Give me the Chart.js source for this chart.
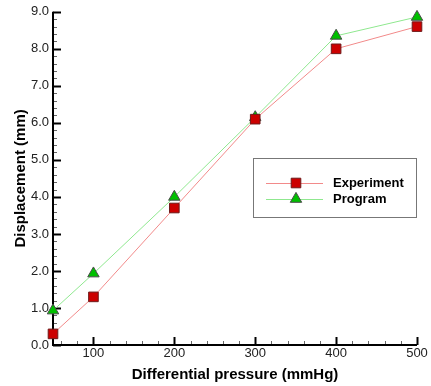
<!DOCTYPE html>
<html>
<head>
<meta charset="utf-8">
<script src="https://cdn.jsdelivr.net/npm/chart.js@4/dist/chart.umd.min.js"></script>
<style>
  html, body { margin: 0; padding: 0; background: #fff; }
  #wrap { width: 431px; height: 386px; }
</style>
</head>
<body>
<div id="wrap"><canvas id="c" width="431" height="386"></canvas></div>
<script>
// ---- data ----
const pressures = [50, 100, 200, 300, 400, 500];
const experiment = [0.30, 1.30, 3.70, 6.10, 8.00, 8.60];
const program = [0.93, 1.93, 4.00, 6.15, 8.35, 8.86];
const seriesNames = ['Experiment', 'Program'];
const xTickLabels = [100, 200, 300, 400, 500];
const yTickLabels = ['0.0', '1.0', '2.0', '3.0', '4.0', '5.0', '6.0', '7.0', '8.0', '9.0'];
const xTitle = 'Differential pressure (mmHg)';
const yTitle = 'Displacement (mm)';

const FONT = "'Liberation Sans', Arial, Helvetica, sans-serif";

// inward ticks + axes drawn from scales
const axisPlugin = {
  id: 'axisPlugin',
  beforeDatasetsDraw(chart) {
    const ctx = chart.ctx;
    const xs = chart.scales.x, ys = chart.scales.y;
    const a = chart.chartArea;
    ctx.save();
    for (let i = 0; i <= 45; i++) {
      const v = i * 0.2;
      const py = Math.round(ys.getPixelForValue(v)) + 0.5;
      const major = i % 5 === 0;
      ctx.beginPath();
      ctx.strokeStyle = major ? '#000' : '#666';
      ctx.lineWidth = major ? 2 : 1;
      ctx.moveTo(a.left, py);
      ctx.lineTo(a.left + (major ? 8 : 4), py);
      ctx.stroke();
    }
    for (let v = 60; v <= 500; v += 20) {
      const px = Math.round(xs.getPixelForValue(v)) + 0.5;
      const major = v % 100 === 0;
      ctx.beginPath();
      ctx.strokeStyle = major ? '#000' : '#666';
      ctx.lineWidth = major ? 2 : 1;
      ctx.moveTo(px, a.bottom);
      ctx.lineTo(px, a.bottom - (major ? 8 : 4));
      ctx.stroke();
    }
    ctx.beginPath();
    ctx.strokeStyle = '#000';
    ctx.lineWidth = 2;
    ctx.moveTo(a.left, a.top);
    ctx.lineTo(a.left, a.bottom);
    ctx.lineTo(a.right, a.bottom);
    ctx.stroke();
    ctx.restore();
  }
};

const legendPlugin = {
  id: 'boxLegend',
  afterDatasetsDraw(chart) {
    const ctx = chart.ctx;
    const box = { l: 253, t: 158, r: 417, b: 218 };
    ctx.save();
    ctx.fillStyle = '#fff';
    ctx.fillRect(box.l, box.t, box.r - box.l, box.b - box.t);
    ctx.strokeStyle = '#777';
    ctx.lineWidth = 1;
    ctx.strokeRect(box.l + 0.5, box.t + 0.5, box.r - box.l - 1, box.b - box.t - 1);
    const rows = [183, 199];
    chart.data.datasets.forEach((ds, i) => {
      const y = rows[i] + 0.5;
      ctx.beginPath();
      ctx.strokeStyle = ds.borderColor;
      ctx.lineWidth = 1;
      ctx.moveTo(266, y);
      ctx.lineTo(323, y);
      ctx.stroke();
      ctx.fillStyle = ds.pointBackgroundColor;
      ctx.strokeStyle = ds.pointBorderColor;
      ctx.lineWidth = ds.pointBorderWidth;
      Chart.helpers.drawPoint(ctx, { pointStyle: ds.pointStyle, radius: ds.pointRadius, borderWidth: ds.pointBorderWidth, rotation: 0 }, 296, rows[i]);
      ctx.fillStyle = '#000';
      ctx.font = 'bold 13px ' + FONT;
      ctx.textBaseline = 'middle';
      ctx.textAlign = 'left';
      ctx.fillText(ds.label, 333, rows[i] + 0.5);
    });
    ctx.restore();
  }
};

new Chart(document.getElementById('c'), {
  type: 'line',
  data: {
    datasets: [
      {
        label: seriesNames[0],
        data: pressures.map((p, i) => ({ x: p, y: experiment[i] })),
        borderColor: '#f28a8a',
        borderWidth: 1,
        pointStyle: 'rect',
        pointRadius: 6.8,
        pointHoverRadius: 6.8,
        pointBackgroundColor: '#cc0000',
        pointBorderColor: '#6e1a1a',
        pointBorderWidth: 1,
        tension: 0,
        clip: false
      },
      {
        label: seriesNames[1],
        data: pressures.map((p, i) => ({ x: p, y: program[i] })),
        borderColor: '#8fe88f',
        borderWidth: 1,
        pointStyle: 'triangle',
        pointRadius: 6.6,
        pointHoverRadius: 6.6,
        pointBackgroundColor: '#00c000',
        pointBorderColor: '#4a4a4a',
        pointBorderWidth: 1,
        tension: 0,
        clip: false
      }
    ]
  },
  options: {
    responsive: false,
    animation: false,
    devicePixelRatio: 1,
    layout: { padding: { top: 8, right: 14, left: 0, bottom: 0 } },
    plugins: { legend: { display: false }, tooltip: { enabled: false } },
    scales: {
      x: {
        type: 'linear',
        min: 50,
        max: 500,
        grid: { display: false, drawTicks: false },
        border: { display: false },
        afterBuildTicks: (s) => { s.ticks = xTickLabels.map(v => ({ value: v })); },
        afterFit: (s) => { s.height = 41; },
        ticks: {
          color: '#222',
          font: { family: FONT, size: 13 },
          padding: 1,
          maxRotation: 0,
          autoSkip: false,
          callback: (v) => String(v)
        },
        title: {
          display: true,
          text: xTitle,
          color: '#000',
          font: { family: FONT, size: 15, weight: 'bold' },
          padding: { top: 0, bottom: 2 }
        }
      },
      y: {
        type: 'linear',
        min: 0,
        max: 9,
        grid: { display: false, drawTicks: false },
        border: { display: false },
        afterBuildTicks: (s) => { s.ticks = yTickLabels.map((t, i) => ({ value: i })); },
        afterFit: (s) => { s.width = 53; },
        ticks: {
          color: '#222',
          font: { family: FONT, size: 13 },
          padding: 4,
          autoSkip: false,
          callback: (v, i) => yTickLabels[i]
        },
        title: {
          display: true,
          text: yTitle,
          color: '#000',
          font: { family: FONT, size: 15, weight: 'bold' },
          padding: { top: 12, bottom: 0 }
        }
      }
    }
  },
  plugins: [axisPlugin, legendPlugin]
});
</script>
</body>
</html>
